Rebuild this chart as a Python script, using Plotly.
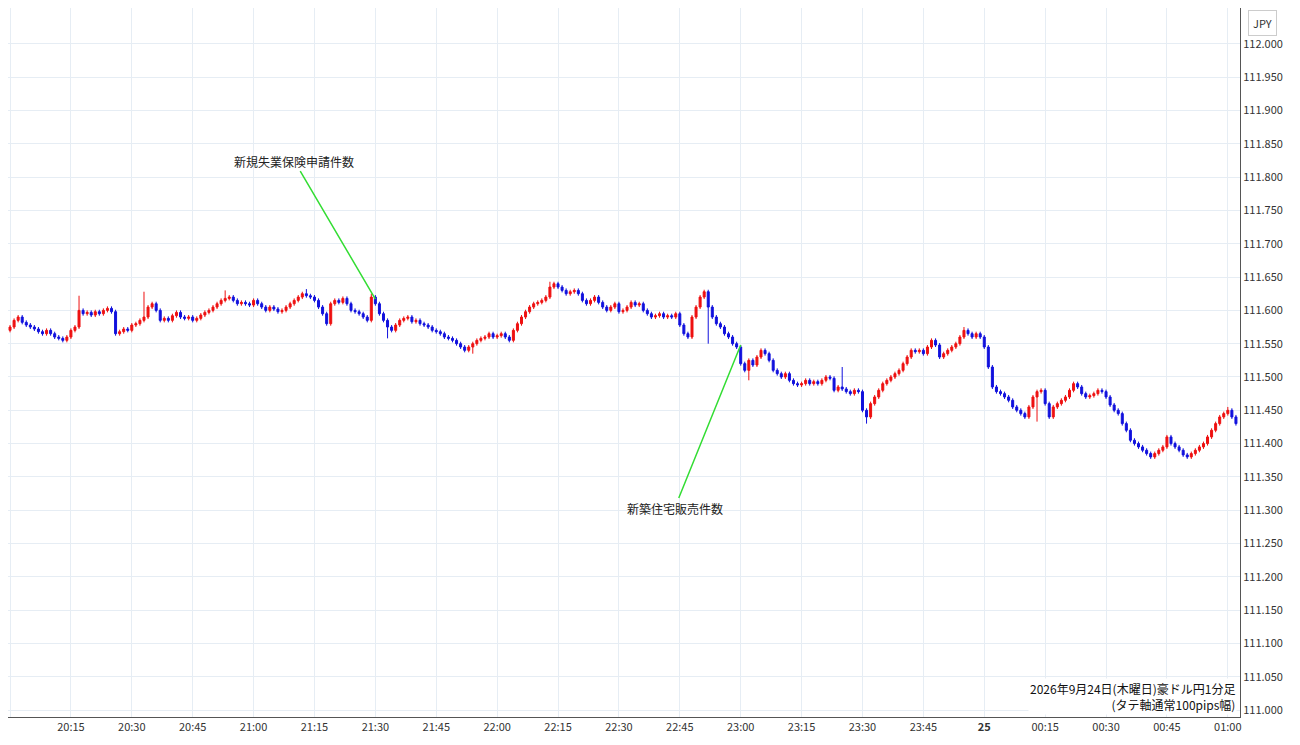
import plotly.graph_objects as go
import pandas as pd

start_time = "2026-09-24 20:00"
open_first = 111.570
closes = [
 111.575,111.585,111.59,111.582,111.578,111.575,111.572,111.568,111.565,111.57,111.565,111.56,111.558,111.555,111.56,
 111.57,111.575,111.60,111.595,111.597,111.593,111.598,111.595,111.60,111.603,111.598,111.565,111.568,111.572,111.57,
 111.578,111.58,111.585,111.59,111.605,111.61,111.60,111.585,111.588,111.585,111.592,111.597,111.59,111.588,111.59,
 111.585,111.588,111.593,111.597,111.60,111.605,111.61,111.615,111.618,111.62,111.615,111.61,111.612,111.61,111.608,
 111.615,111.61,111.605,111.60,111.605,111.602,111.598,111.60,111.605,111.61,111.615,111.62,111.625,111.622,111.62,
 111.615,111.605,111.595,111.58,111.61,111.615,111.612,111.618,111.61,111.60,111.598,111.595,111.59,111.585,111.62,
 111.61,111.595,111.585,111.575,111.57,111.578,111.585,111.588,111.59,111.583,111.585,111.58,111.578,111.575,111.57,
 111.568,111.565,111.56,111.558,111.555,111.55,111.545,111.54,111.545,111.55,111.555,111.558,111.56,111.565,111.56,
 111.562,111.565,111.56,111.555,111.57,111.58,111.59,111.598,111.605,111.61,111.612,111.615,111.62,111.635,111.64,
 111.635,111.63,111.625,111.628,111.63,111.625,111.615,111.61,111.615,111.62,111.612,111.605,111.60,111.605,111.61,
 111.598,111.60,111.605,111.612,111.608,111.61,111.60,111.595,111.59,111.592,111.595,111.59,111.592,111.59,111.595,
 111.578,111.565,111.56,111.59,111.605,111.62,111.628,111.605,111.59,111.58,111.575,111.565,111.56,111.55,111.545,
 111.52,111.51,111.525,111.518,111.53,111.54,111.535,111.525,111.51,111.505,111.50,111.505,111.495,111.49,111.488,
 111.49,111.495,111.49,111.493,111.49,111.495,111.50,111.498,111.48,111.485,111.482,111.478,111.475,111.48,111.478,
 111.45,111.44,111.46,111.47,111.48,111.49,111.495,111.50,111.505,111.51,111.52,111.53,111.54,111.538,111.54,
 111.535,111.545,111.555,111.548,111.53,111.535,111.54,111.545,111.55,111.56,111.57,111.565,111.56,111.565,111.56,
 111.545,111.515,111.485,111.478,111.475,111.47,111.465,111.455,111.45,111.445,111.44,111.455,111.47,111.478,111.48,
 111.46,111.44,111.455,111.46,111.465,111.47,111.48,111.49,111.485,111.475,111.47,111.472,111.475,111.48,111.478,
 111.47,111.458,111.45,111.445,111.43,111.42,111.405,111.40,111.395,111.39,111.385,111.38,111.385,111.39,111.395,
 111.41,111.40,111.395,111.39,111.383,111.38,111.385,111.39,111.395,111.40,111.41,111.42,111.43,111.44,111.445,
 111.45,111.44,111.43,
]
wick_default = 0.003
# notable wick extremes (minute index -> (high, low))
spikes = {17: (111.622, None), 33: (111.628, None), 53: (111.63, None), 73: (111.632, None),
          89: (111.625, None), 93: (None, 111.558), 114: (None, 111.535), 133: (111.643, None),
          172: (None, 111.55), 182: (None, 111.495), 205: (111.515, None),
          211: (None, 111.43), 235: (111.575, None), 253: (None, 111.433), 300: (111.455, None)}

times = pd.date_range(start_time, periods=len(closes), freq="1min")
opens = [open_first] + closes[:-1]
highs, lows = [], []
for i, (o, c) in enumerate(zip(opens, closes)):
    h, l = max(o, c) + wick_default, min(o, c) - wick_default
    if i in spikes:
        sh, sl = spikes[i]
        if sh is not None: h = sh
        if sl is not None: l = sl
    highs.append(h); lows.append(l)

tick_vals = pd.date_range("2026-09-24 20:00", "2026-09-25 01:00", freq="15min")
tick_text = [t.strftime("%H:%M") if not (t.hour == 0 and t.minute == 0) else "<b>25</b>" for t in tick_vals]
y_ticks = [round(111.0 + 0.05 * i, 3) for i in range(21)]

fig = go.Figure(go.Candlestick(
    x=times, open=opens, high=highs, low=lows, close=closes,
    increasing=dict(line=dict(color="#ee1111", width=1), fillcolor="#ee1111"),
    decreasing=dict(line=dict(color="#1111dd", width=1), fillcolor="#1111dd"),
    whiskerwidth=0, showlegend=False))

fig.update_layout(
    width=1300, height=745, paper_bgcolor="white", plot_bgcolor="white",
    margin=dict(l=0, r=68, t=0, b=36),
    font=dict(family="Noto Sans CJK JP, Noto Sans, sans-serif", size=11, color="#333"),
    xaxis=dict(rangeslider=dict(visible=False), type="date",
               range=[pd.Timestamp("2026-09-24 19:59:30"), pd.Timestamp("2026-09-25 01:03")],
               tickvals=tick_vals, ticktext=tick_text, tickangle=0,
               gridcolor="#e6edf4", showline=True, linecolor="#555", mirror=True,
               ticks="", tickfont=dict(size=11, color="#333")),
    yaxis=dict(side="right", range=[110.9895, 112.054], tickvals=y_ticks,
               ticktext=[f"{v:.3f}" for v in y_ticks], gridcolor="#e6edf4",
               showline=True, linecolor="#555", ticks="", tickfont=dict(size=11, color="#333"), zeroline=False),
    annotations=[
        dict(x=pd.Timestamp("2026-09-24 21:30"), y=111.617, xref="x", yref="y",
             text="新規失業保険申請件数", showarrow=True, arrowhead=0, arrowcolor="#33dd33",
             arrowwidth=1.5, ax=-81, ay=-138, font=dict(size=12, color="#222")),
        dict(x=pd.Timestamp("2026-09-24 23:00"), y=111.548, xref="x", yref="y",
             text="新築住宅販売件数", showarrow=True, arrowhead=0, arrowcolor="#33dd33",
             arrowwidth=1.5, ax=-66, ay=163, font=dict(size=12, color="#222")),
        dict(x=1.0, y=0.0, xref="paper", yref="paper", xanchor="right", yanchor="bottom",
             xshift=-3, yshift=2, align="right", showarrow=False, bgcolor="white",
             text="2026年9月24日(木曜日)豪ドル円1分足<br>(タテ軸通常100pips幅)",
             font=dict(size=12, color="#111")),
        dict(x=1.0, y=1.0, xref="paper", yref="paper", xanchor="left", yanchor="top",
             xshift=8, yshift=-2, showarrow=False, text="JPY", bordercolor="#ccc",
             borderwidth=1, borderpad=4, font=dict(size=11, color="#333")),
    ])
fig.write_html("out.html")
